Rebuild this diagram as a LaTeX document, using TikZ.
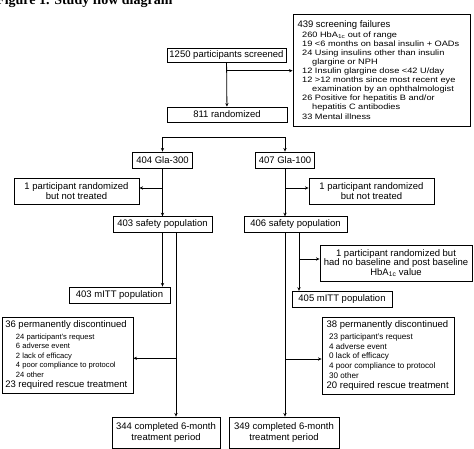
\documentclass[tikz,border=0pt]{standalone}
\usepackage{fontspec}
\setmainfont{Liberation Sans}
\newfontfamily\titlefont{Liberation Serif}
\newfontfamily\stretchsf[FakeStretch=1.18]{Liberation Sans}
\usetikzlibrary{arrows.meta,calc}
\newcommand{\subtxt}{\stretchsf\fontsize{7.8}{9.1}\selectfont}
\newcommand{\disctxt}[1]{\fontsize{#1}{9.6}\selectfont}

\begin{document}
\begin{tikzpicture}[x=1pt,y=-1pt,>={Stealth[length=3.6pt,width=3.2pt]},
  flowbox/.style={draw,line width=0.8pt,inner sep=0pt,align=center,
    font=\fontsize{9.5}{10.6}\selectfont},
  link/.style={line width=0.8pt}]
  \useasboundingbox (0,0) rectangle (474,449);
  % caption, cut at the top edge
  \node[anchor=base west,inner sep=0pt,font=\titlefont\bfseries\fontsize{14}{16}\selectfont]
    (figtitle) at (-4,4.7) {Figure 1. Study flow diagram};

  % screening
  \node[flowbox,minimum width=119pt,minimum height=14pt] (screen) at (226.5,55) {1250 participants screened};
  \node[flowbox,align=flush left,text width=168pt,inner xsep=4.5pt,minimum height=112pt,
    font=\subtxt] (fail) at (381.5,70) {%
    {\rmfamily\fontsize{9.5}{9.1}\selectfont 439 screening failures}\\[0.2pt]
    \hspace*{4.7pt}260 HbA\textsubscript{1c} out of range\\
    \hspace*{4.7pt}19 <6 months on basal insulin + OADs\\
    \hspace*{4.7pt}24 Using insulins other than insulin\\
    \hspace*{14.7pt}glargine or NPH\\
    \hspace*{4.7pt}12 Insulin glargine dose <42 U/day\\
    \hspace*{4.7pt}12 >12 months since most recent eye\\
    \hspace*{14.7pt}examination by an ophthalmologist\\
    \hspace*{4.7pt}26 Positive for hepatitis B and/or\\
    \hspace*{14.7pt}hepatitis C antibodies\\
    \hspace*{4.7pt}33 Mental illness};
  \node[flowbox,minimum width=120pt,minimum height=15pt] (rand) at (227,114.5) {811 randomized};

  % arms
  \node[flowbox,minimum width=60pt,minimum height=16pt] (gla300) at (162.5,160) {404 Gla-300};
  \node[flowbox,minimum width=59pt,minimum height=16pt] (gla100) at (285,160) {407 Gla-100};
  \node[flowbox,minimum width=125pt,minimum height=26pt] (nt300) at (76.5,191) {1 participant randomized\\but not treated};
  \node[flowbox,minimum width=125pt,minimum height=26pt] (nt100) at (371.5,191) {1 participant randomized\\but not treated};
  \node[flowbox,minimum width=99pt,minimum height=15.5pt] (safety300) at (162.5,224.5) {403 safety population};
  \node[flowbox,minimum width=103pt,minimum height=15.5pt] (safety100) at (295.5,224.5) {406 safety population};
  \node[flowbox,minimum width=152pt,minimum height=36pt,
    font=\fontsize{9.5}{9.6}\selectfont] (nobase100) at (396,263)
    {1 participant randomized but\\had no baseline and post baseline\\HbA\textsubscript{1c} value};
  \node[flowbox,minimum width=101pt,minimum height=16pt] (mitt300) at (119.5,295) {403 mITT population};
  \node[flowbox,minimum width=100pt,minimum height=16.5pt] (mitt100) at (342,299.5) {405 mITT population};

  % discontinuations
  \node[flowbox,align=flush left,text width=124.4pt,inner xsep=3.3pt,minimum height=76pt,
    font=\disctxt{9.5}] (disc300) at (67.5,355) {%
    36 permanently discontinued\\[2.1pt]
    {\disctxt{7.6}\hspace*{10.7pt}24 participant's request\\
    \hspace*{10.7pt}6 adverse event\\
    \hspace*{10.7pt}2 lack of efficacy\\
    \hspace*{10.7pt}4 poor compliance to protocol\\
    \hspace*{10.7pt}24 other}\\[0.4pt]
    23 required rescue treatment};
  \node[flowbox,align=flush left,text width=124.6pt,inner xsep=3.7pt,minimum height=77pt,
    font=\disctxt{9.5}] (disc100) at (388,355.5) {%
    \hspace*{1pt}38 permanently discontinued\\[2.1pt]
    {\disctxt{8.1}\hspace*{3.5pt}23 participant's request\\
    \hspace*{3.5pt}4 adverse event\\
    \hspace*{3.5pt}0 lack of efficacy\\
    \hspace*{3.5pt}4 poor compliance to protocol\\
    \hspace*{3.5pt}30 other}\\[0.4pt]
    \hspace*{1pt}20 required rescue treatment};

  % completers
  \node[flowbox,minimum width=108pt,minimum height=31pt,font=\fontsize{9.5}{11}\selectfont] (compl300) at (166,432.5) {344 completed 6-month\\treatment period};
  \node[flowbox,minimum width=110pt,minimum height=31pt,font=\fontsize{9.5}{11}\selectfont] (compl100) at (284,432.5) {349 completed 6-month\\treatment period};

  % branch points
  \coordinate (jfail) at (226.5,70.7);
  \coordinate (jsplit) at (227,137);
  \coordinate (jnt300) at (162.5,188);
  \coordinate (jnt100) at (285,188);
  \coordinate (s300) at (176,232.25);
  \coordinate (jdisc300) at (176,358.3);
  \coordinate (s100) at (285,232.25);
  \coordinate (jdisc100) at (285,359);
  \coordinate (t100) at (299,232.25);
  \coordinate (jnobase) at (299,259);

  % connectors
  \draw[link,->] (screen) -- (rand);
  \draw[link,->] (jfail) -- (jfail -| fail.west);
  \draw[link,->] (jsplit) -| (gla300.north);
  \draw[link,->] (jsplit) -| (gla100.north);
  \draw[link,->] (gla300) -- (safety300);
  \draw[link,->] (jnt300) -- (jnt300 -| nt300.east);
  \draw[link,->] (gla100.south) -- (gla100.south |- safety100.north);
  \draw[link,->] (jnt100) -- (jnt100 -| nt100.west);
  \draw[link,->] (safety300.south) -- (safety300.south |- mitt300.north);
  \draw[link,->] (s300) -- (s300 |- compl300.north);
  \draw[link,->] (jdisc300) -- (jdisc300 -| disc300.east);
  \draw[link,->] (s100) -- (s100 |- compl100.north);
  \draw[link,->] (jdisc100) -- (jdisc100 -| disc100.west);
  \draw[link,->] (t100) -- (t100 |- mitt100.north);
  \draw[link,->] (jnobase) -- (jnobase -| nobase100.west);
\end{tikzpicture}
\end{document}
